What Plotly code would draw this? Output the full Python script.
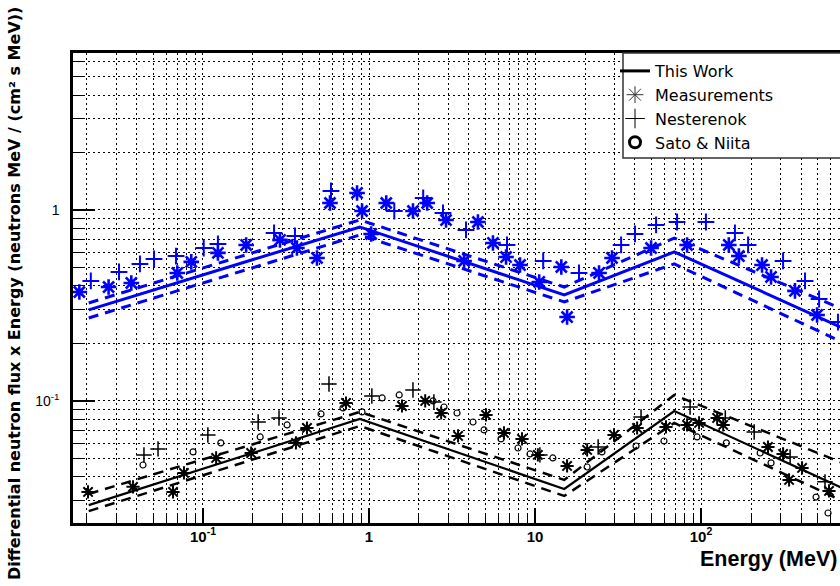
import plotly.graph_objects as go

# ---------------- data ----------------
# break points of the "This Work" model curves (MeV)
curve_E = [0.0205, 0.88, 15.0, 69.0, 1000.0]
blue_work = [0.300, 0.815, 0.359, 0.603, 0.211]
blue_work_hi = [0.326, 0.887, 0.395, 0.713, 0.267]
blue_work_lo = [0.272, 0.740, 0.330, 0.522, 0.177]
black_work = [0.0285, 0.0805, 0.0346, 0.0886, 0.0305]
black_work_hi = [0.0326, 0.0876, 0.0386, 0.1075, 0.0420]
black_work_lo = [0.0265, 0.0740, 0.0318, 0.0767, 0.0261]

blue_meas_E = [0.018, 0.027, 0.037, 0.070, 0.085, 0.123, 0.182, 0.291, 0.368, 0.486,
               0.582, 0.847, 0.908, 1.03, 1.27, 1.84, 2.24, 2.91, 4.53, 3.74,
               5.58, 6.69, 8.12, 10.6, 14.4, 15.6, 24.3, 29.1, 50.0, 82.4,
               147, 169, 233, 264, 368, 500]
blue_meas_V = [0.372, 0.395, 0.415, 0.468, 0.535, 0.596, 0.656, 0.697, 0.632, 0.561,
               1.088, 1.228, 0.988, 0.749, 1.088, 0.988, 1.088, 0.886, 0.865, 0.541,
               0.672, 0.567, 0.515, 0.420, 0.503, 0.275, 0.468, 0.561, 0.632, 0.656,
               0.656, 0.574, 0.515, 0.446, 0.377, 0.282]

blue_nest_E = [0.0211, 0.0312, 0.0417, 0.0507, 0.0688, 0.101, 0.123, 0.268, 0.358, 0.590,
               1.42, 2.12, 2.79, 3.84, 6.78, 11.2, 18.4, 33.0, 40.0, 53.6,
               71.7, 107, 160, 192, 312, 423, 514, 668]
blue_nest_V = [0.425, 0.474, 0.522, 0.554, 0.574, 0.632, 0.664, 0.758, 0.731, 1.257,
               0.988, 1.156, 0.965, 0.786, 0.656, 0.541, 0.468, 0.656, 0.749, 0.835,
               0.865, 0.865, 0.758, 0.656, 0.541, 0.425, 0.342, 0.259]

black_meas_E = [0.0203, 0.0379, 0.0660, 0.0768, 0.120, 0.195, 0.363, 0.423, 0.727, 1.58,
                2.18, 2.72, 3.44, 5.07, 6.50, 8.35, 10.4, 15.6, 20.6, 29.9,
                41.2, 61.5, 82.4, 97.3, 125, 136, 253, 312, 339, 406, 590]
black_meas_V = [0.0334, 0.0355, 0.0334, 0.0420, 0.0503, 0.0534, 0.0603, 0.0722, 0.0976, 0.0941,
                0.100, 0.0865, 0.0656, 0.0845, 0.0680, 0.0633, 0.0522, 0.0457, 0.0554, 0.0664,
                0.0722, 0.0731, 0.0749, 0.0767, 0.0815, 0.0749, 0.0574, 0.0528, 0.0386, 0.0446,
                0.0338]

black_nest_E = [0.0441, 0.0536, 0.107, 0.215, 0.287, 0.574, 1.04, 1.84, 2.46, 10.7,
                24.0, 43.5, 85.9, 140, 209, 344, 558]
black_nest_V = [0.0522, 0.0561, 0.0664, 0.0776, 0.0815, 0.1227, 0.1062, 0.1142, 0.0988, 0.0522,
                0.0574, 0.0824, 0.0930, 0.0815, 0.0688, 0.0509, 0.0377]

black_sato_E = [0.0435, 0.0871, 0.128, 0.221, 0.321, 0.514, 0.697, 0.908, 1.20, 1.52,
                2.43, 2.83, 3.39, 4.23, 4.93, 6.24, 7.90, 9.33, 12.8, 20.6,
                25.3, 40.6, 59.8, 94.6, 142, 227, 264, 493, 582]
black_sato_V = [0.0462, 0.0541, 0.0603, 0.0648, 0.0749, 0.0855, 0.0919, 0.0876, 0.1037, 0.1075,
                0.100, 0.0930, 0.0865, 0.0776, 0.0705, 0.0633, 0.0567, 0.0528, 0.0503, 0.0451,
                0.0541, 0.0581, 0.0617, 0.0648, 0.0603, 0.0534, 0.0474, 0.0314, 0.0259]

x_tick_vals = [0.1, 1, 10, 100]
x_tick_text = ["10<sup>-1</sup>", "1", "10", "10<sup>2</sup>"]
y_tick_vals = [0.1, 1]
y_tick_text = ["10<sup>-1</sup>", "1"]
legend_names = ["This Work", "Measurements", "Nesterenok", "Sato & Niita"]

# ---------------- figure ----------------
BLUE = "#0000ff"
BLACK = "#000000"
fig = go.Figure()

def curve(y, color, width, dash):
    fig.add_trace(go.Scatter(x=curve_E, y=y, mode="lines", showlegend=False,
                             line=dict(color=color, width=width, dash=dash)))

curve(black_work, BLACK, 2.2, "solid")
curve(black_work_hi, BLACK, 2.5, "10px,7px")
curve(black_work_lo, BLACK, 2.5, "10px,7px")
curve(blue_work, BLUE, 3, "solid")
curve(blue_work_hi, BLUE, 3, "10px,7px")
curve(blue_work_lo, BLUE, 3, "10px,7px")

def pts(x, y, symbol, size, color, lw):
    fig.add_trace(go.Scatter(x=x, y=y, mode="markers", showlegend=False,
                             marker=dict(symbol=symbol, size=size, color=color,
                                         line=dict(color=color, width=lw))))

pts(black_sato_E, black_sato_V, "circle-open", 6, BLACK, 1.2)
pts(black_nest_E, black_nest_V, "cross-thin-open", 11, BLACK, 1.5)
pts(black_meas_E, black_meas_V, "asterisk-open", 11, BLACK, 2)
pts(blue_nest_E, blue_nest_V, "cross-thin-open", 12, BLUE, 2)
pts(blue_meas_E, blue_meas_V, "asterisk-open", 13, BLUE, 2.6)

# legend entries (generic black symbols)
fig.add_trace(go.Scatter(x=[None], y=[None], mode="lines", name=legend_names[0],
                         line=dict(color=BLACK, width=3)))
fig.add_trace(go.Scatter(x=[None], y=[None], mode="markers", name=legend_names[1],
                         marker=dict(symbol="asterisk-open", size=14, color="#333",
                                     line=dict(color="#333", width=1))))
fig.add_trace(go.Scatter(x=[None], y=[None], mode="markers", name=legend_names[2],
                         marker=dict(symbol="cross-thin-open", size=14, color=BLACK,
                                     line=dict(color=BLACK, width=1))))
fig.add_trace(go.Scatter(x=[None], y=[None], mode="markers", name=legend_names[3],
                         marker=dict(symbol="circle-open", size=11, color=BLACK,
                                     line=dict(color=BLACK, width=3))))

x_minor = [m * 10.0 ** d for d in range(-2, 3) for m in range(2, 10)]
y_minor = [m * 10.0 ** d for d in range(-2, 1) for m in range(2, 10)]
grid = dict(showgrid=True, gridcolor=BLACK, gridwidth=1, griddash="2px,3px")

fig.update_xaxes(type="log", range=[-1.783, 2.837],
                 tickmode="array", tickvals=x_tick_vals, ticktext=x_tick_text,
                 ticks="inside", ticklen=15, tickwidth=1.5, tickcolor=BLACK,
                 ticklabelstandoff=-2,
                 minor=dict(tickvals=x_minor, ticks="inside", ticklen=8, tickwidth=1.2,
                            tickcolor=BLACK, **grid),
                 showline=True, linecolor=BLACK, linewidth=2.5, mirror=True,
                 zeroline=False,
                 tickfont=dict(family="Liberation Sans", size=15, color=BLACK, weight="bold"),
                 **grid)
fig.update_yaxes(type="log", range=[-1.639, 0.822],
                 tickmode="array", tickvals=y_tick_vals, ticktext=y_tick_text,
                 ticks="inside", ticklen=22, tickwidth=1.5, tickcolor=BLACK,
                 ticklabelstandoff=8,
                 minor=dict(tickvals=y_minor, ticks="inside", ticklen=12, tickwidth=1.2,
                            tickcolor=BLACK, **grid),
                 showline=True, linecolor=BLACK, linewidth=2.5, mirror=False,
                 zeroline=False,
                 tickfont=dict(family="Liberation Sans", size=14, color=BLACK),
                 **grid)

L, T, R, B = 73, 53, 0, 63
W, H = 840, 586
PW, PH = W - L - R, H - T - B
def px(x):
    return (x - L) / PW
def py(y):
    return (H - B - y) / PH

# legend frame
fig.add_shape(type="rect", xref="paper", yref="paper",
              x0=px(623), x1=px(860), y0=py(158), y1=py(53),
              fillcolor="white", line=dict(color="#333", width=1.5), layer="above")

fig.update_layout(
    width=W, height=H,
    margin=dict(l=L, r=R, t=T, b=B),
    paper_bgcolor="white", plot_bgcolor="white",
    showlegend=True,
    legend=dict(x=px(615), y=py(54), xanchor="left", yanchor="top",
                bgcolor="rgba(0,0,0,0)", borderwidth=0,
                font=dict(family="DejaVu Sans", size=16, color=BLACK),
                tracegroupgap=0, itemwidth=30),
    annotations=[
        dict(text="Energy (MeV)", xref="paper", yref="paper", x=px(839), y=py(559),
             xanchor="right", yanchor="middle", showarrow=False,
             font=dict(family="Liberation Sans", size=21.5, color=BLACK, weight="bold")),
        dict(text="Differential neutron flux x Energy (neutrons MeV / (cm² s MeV))",
             xref="paper", yref="paper", x=px(14), y=py(294), textangle=-90,
             xanchor="center", yanchor="middle", showarrow=False,
             font=dict(family="DejaVu Sans", size=16, color=BLACK, weight="bold")),
    ],
)

fig.write_html("out.html", config={"displayModeBar": False},
               post_script="document.body.style.margin='0';document.body.style.overflow='hidden';")
